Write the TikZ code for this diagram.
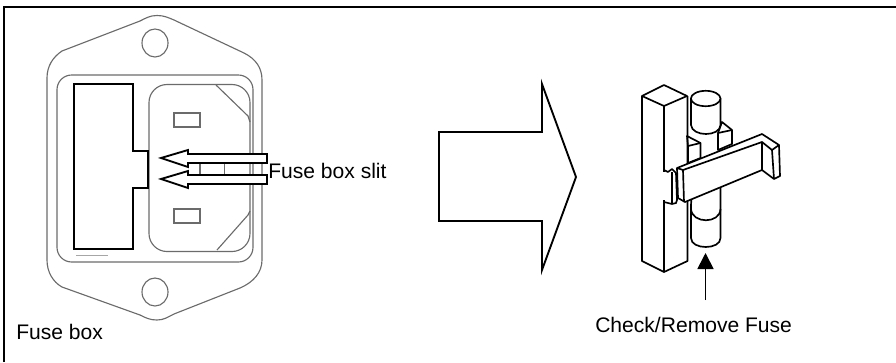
\documentclass[tikz,border=0pt]{standalone}
\usepackage{fontspec}
\setmainfont{Liberation Sans}
\usetikzlibrary{arrows.meta}
\tikzset{
  platelines/.style={draw=black!58, line width=0.85pt},
  heavylines/.style={draw=black, line width=1.4pt, line join=miter},
  holderlines/.style={draw=black, line width=1.25pt, line join=round, fill=white},
  labeltext/.style={inner sep=0pt, anchor=base west, font=\fontsize{15.8}{18}\selectfont}
}
\begin{document}
\begin{tikzpicture}[x=0.75pt,y=-0.75pt]
  \useasboundingbox (0,0) rectangle (896,362);
  % frame, top and left only
  \draw[line width=1.4pt] (4,362) -- (4,7) -- (896,7);

  % fuse box front
  \draw[platelines] (157,15.5) .. controls (164,15.5) and (168,17.5) .. (174,20) -- (244,53)
     .. controls (256,59) and (262,68) .. (262,80) -- (262,260)
     .. controls (262,272) and (254,282) .. (240,288) -- (174,314)
     .. controls (168,317) and (164,320) .. (157,320) .. controls (150,320) and (146,318) .. (140,315)
     -- (62,287) .. controls (53,282) and (47,272) .. (47,260) -- (47,78)
     .. controls (47,66) and (53,57) .. (62,51) -- (140,21) .. controls (146,18) and (150,15.5) .. (157,15.5) -- cycle;
  \draw[platelines] (155,43) ellipse (13 and 14);
  \draw[platelines] (155,292) ellipse (13 and 14);
  \draw[platelines, rounded corners=11pt] (57,75) rectangle (253,262);
  \draw[platelines, rounded corners=13.5pt] (149,84.5) rectangle (250,251.5);
  \draw[platelines] (216,85) -- (248,116) -- (250,122);
  \draw[platelines] (250,211) -- (248,215) -- (217,250);
  \draw[platelines] (174,113) rectangle (200,127);
  \draw[platelines] (174,209) rectangle (200,223);
  \draw[platelines] (200,162) -- (200,176);
  \draw[platelines] (224.5,162) -- (224.5,176);
  \draw[draw=black!35, line width=0.6pt] (76,255) -- (108,255);
  \draw[heavylines] (74,84) -- (133,84) -- (133,151) -- (148,151) -- (148,188) -- (133,188) -- (133,249) -- (74,249) -- cycle;

  % slit arrows
  \draw[heavylines, fill=white] (161,158) -- (188,150) -- (188,154) -- (267,154) -- (267,163) -- (188,163) -- (188,167) -- cycle;
  \draw[heavylines, fill=white] (161,179) -- (188,171) -- (188,175) -- (267,175) -- (267,184) -- (188,184) -- (188,188) -- cycle;
  \node[labeltext] (slitlabel) at (268,178) {Fuse box slit};
  \node[labeltext] (boxlabel) at (16,339) {Fuse box};

  % big arrow
  \draw[heavylines] (439,132) -- (542,132) -- (542,84) -- (576,177) -- (542,270) -- (542,221) -- (439,221) -- cycle;

  % fuse, behind the holder
  \draw[holderlines] (691,205) -- (691,238) .. controls (691,250) and (720.5,250) .. (720.5,238) -- (720.5,180) -- (692,190) -- cycle;
  \draw[holderlines, fill=none] (691,209) .. controls (692,224) and (720,224) .. (720.5,209);
  % holder block
  \draw[holderlines] (687,136) -- (700.5,143) -- (700.5,158) -- (688,163) -- (688,146) -- cycle;
  \draw[holderlines, fill=none] (688,146) -- (700.5,143);
  \draw[holderlines] (722,122) -- (732,130) -- (732,144) -- (718,150) -- (718,133) -- cycle;
  \draw[holderlines, fill=none] (718,133) -- (732,130);
  \draw[holderlines] (691,98.5) -- (691,125) .. controls (692,137) and (720,137) .. (720.5,125) -- (720.5,98.5);
  \draw[holderlines] (705.7,98.5) ellipse (14.8 and 7.7);
  % column
  \draw[holderlines] (642,96) -- (664,85) -- (687,96) -- (664,106) -- cycle;
  \draw[holderlines, fill=none] (642,96) -- (642,261) -- (664,272) -- (687.5,261) -- (687.5,96);
  \draw[holderlines, fill=none] (664,106) -- (664,170);
  \draw[holderlines, fill=none] (664,202) -- (664,272);
  % clip on the column
  \draw[holderlines] (664,170) -- (668,172) -- (672,169) -- (676,173) -- (677,200) -- (676,203) -- (672,204) -- (664,202) -- cycle;
  \draw[draw=white, line width=1.4pt] (664,172) -- (664,200);
  \draw[holderlines, fill=none] (672,172) -- (672,204);
  % lever
  \draw[holderlines] (677,168) -- (762,134) -- (779,145) -- (780,176) -- (774,179) -- (762,170) -- (685,202) -- (678,198) -- cycle;
  \draw[holderlines, fill=none] (677,168) -- (683,170) -- (762,142) -- (762,170);
  \draw[holderlines, fill=none] (683,170) -- (684,202);
  \draw[holderlines, fill=none] (762,142) -- (772,150) -- (774,179);
  \draw[holderlines, fill=none] (772,150) -- (779,145);

  % label with its arrow
  \node[labeltext] (fuselabel) at (595,332) {Check/Remove Fuse};
  \coordinate (fusetail) at (705.5,300);
  \coordinate (fusetip) at (705.5,253);
  \draw[line width=1.3pt, -{Triangle[length=12pt,width=12pt]}] (fusetail) -- (fusetip);
\end{tikzpicture}
\end{document}
